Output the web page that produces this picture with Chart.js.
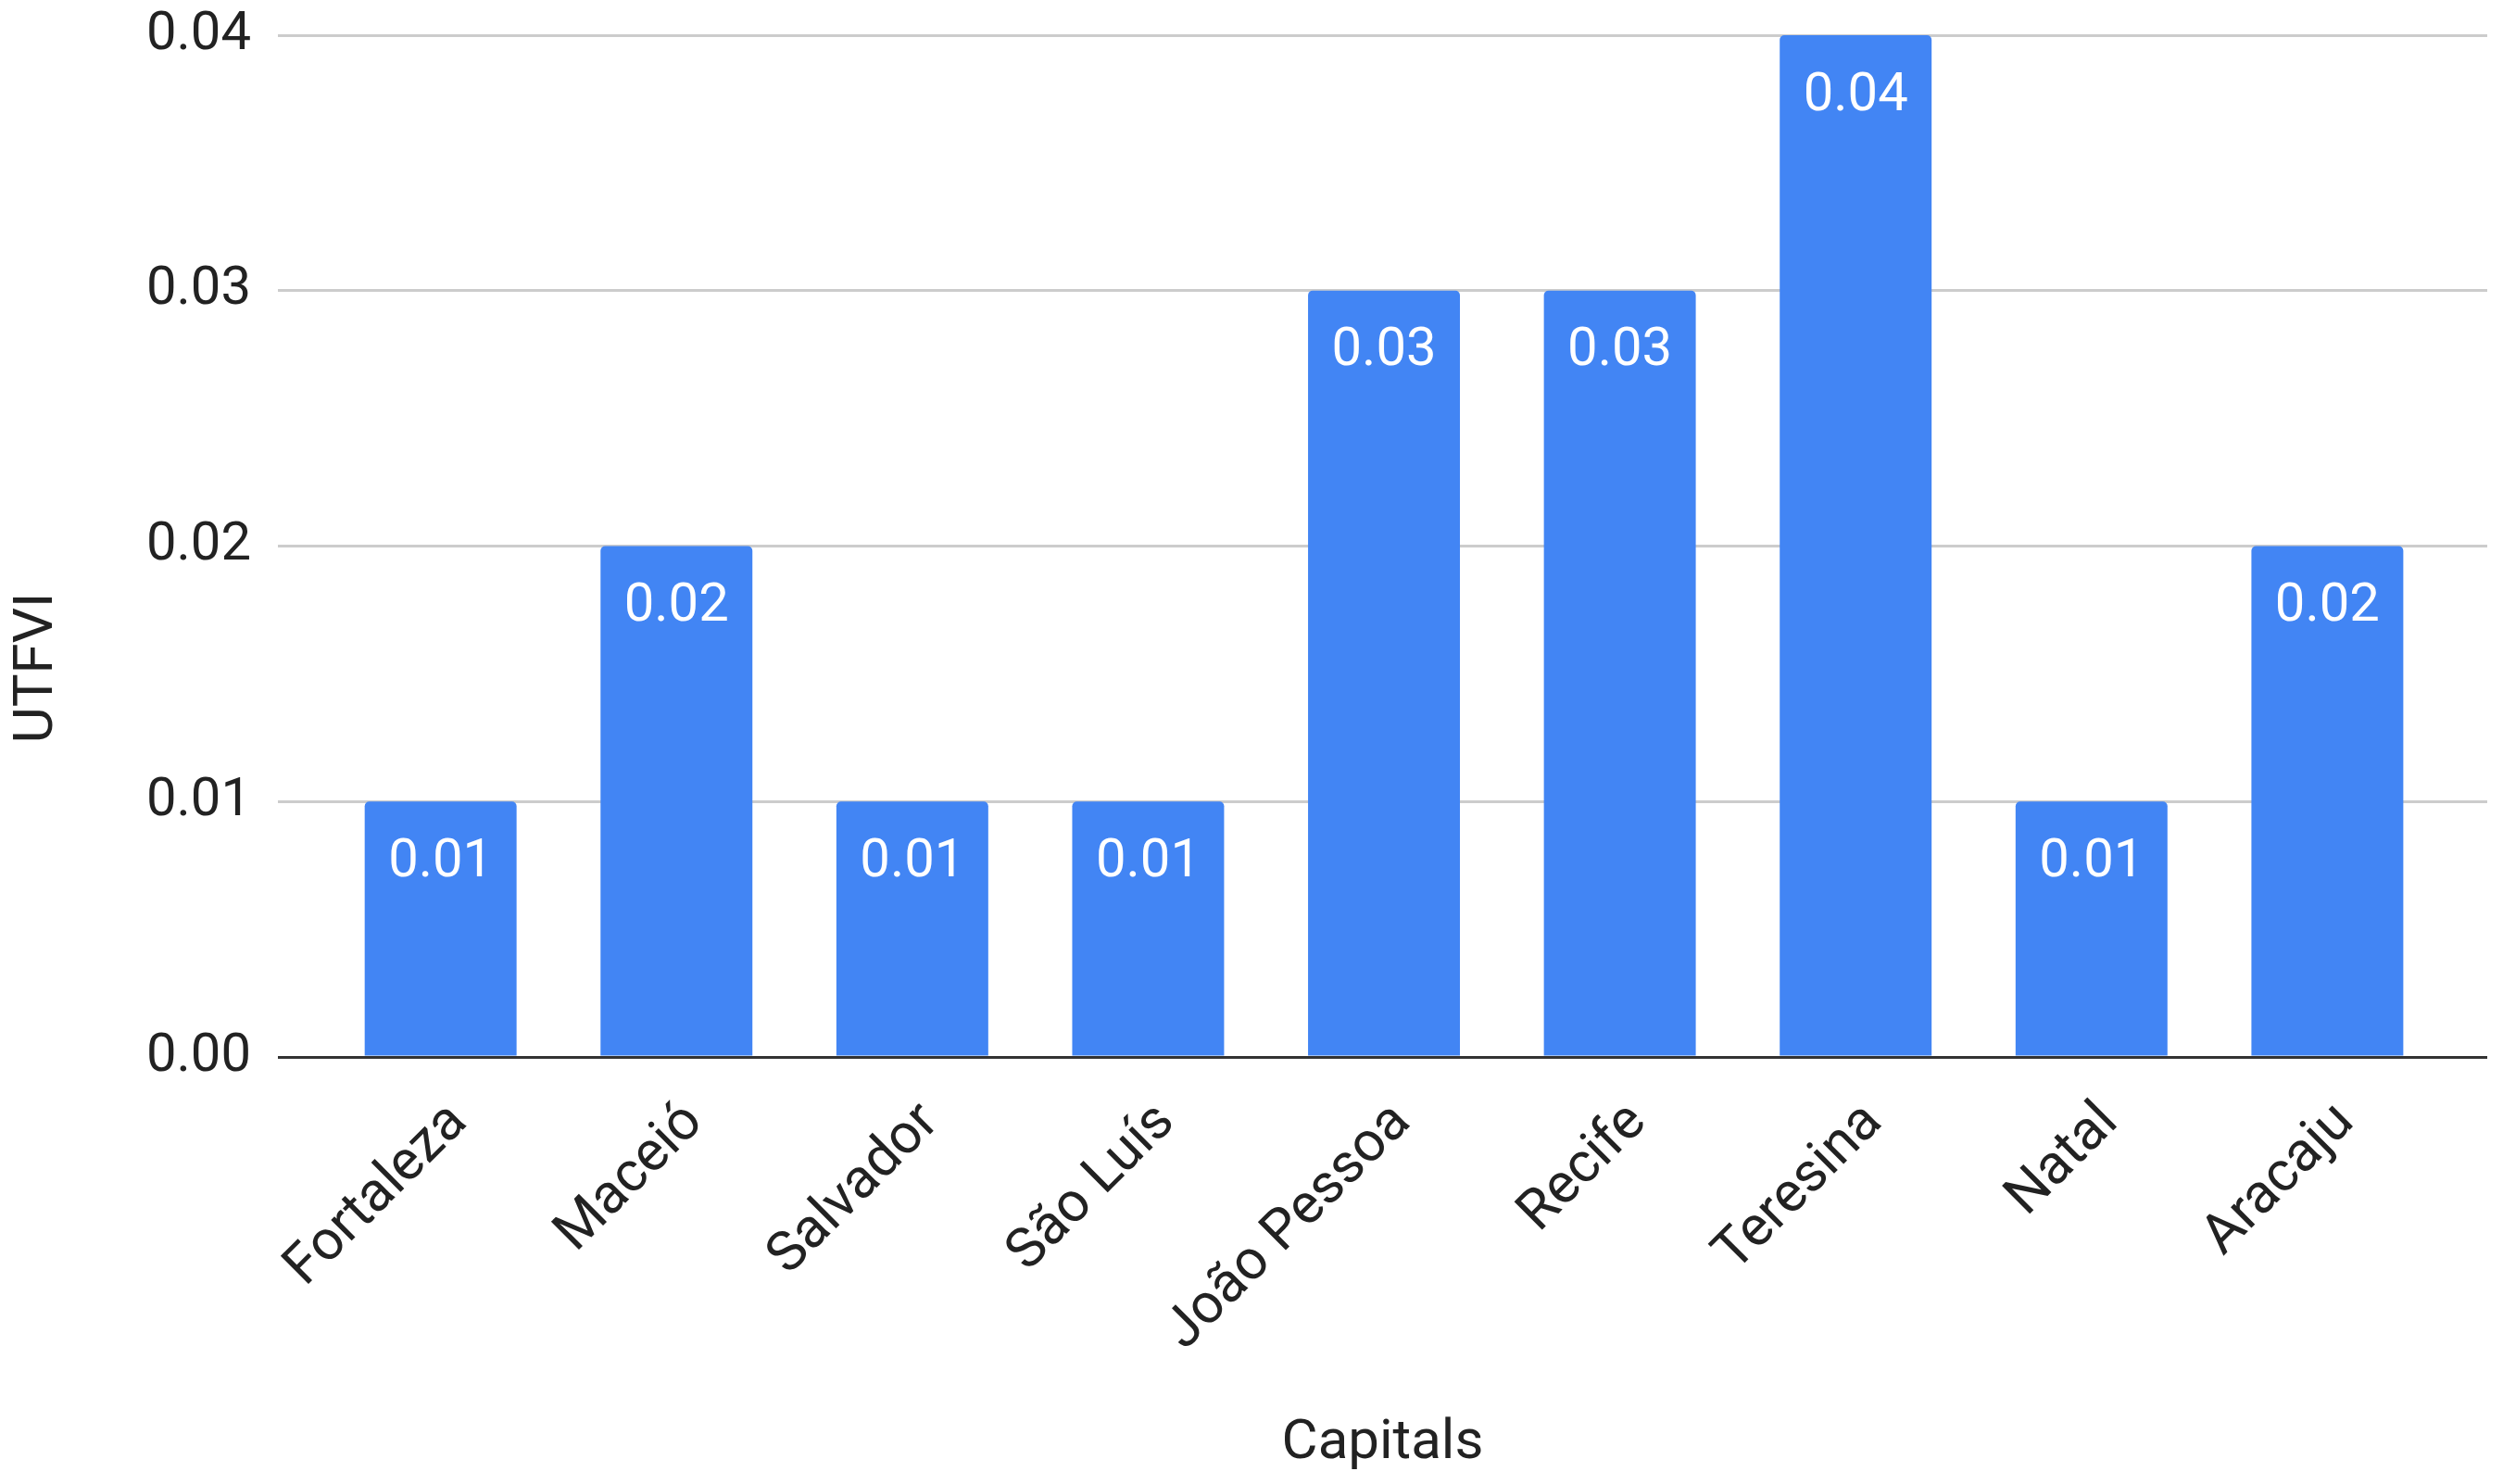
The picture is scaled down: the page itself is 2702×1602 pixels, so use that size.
<!DOCTYPE html>
<html>
<head>
<meta charset="utf-8">
<script src="https://cdn.jsdelivr.net/npm/chart.js@4/dist/chart.umd.min.js"></script>
<style>
  html, body { margin: 0; padding: 0; background: #ffffff; }
  #wrap { width: 2702px; height: 1602px; }
</style>
</head>
<body>
<div id="wrap"><canvas id="c" width="2702" height="1602"></canvas></div>
<script>
const categories = ["Fortaleza", "Maceió", "Salvador", "São Luís", "João Pessoa", "Recife", "Teresina", "Natal", "Aracaju"];
const utfviValues = [0.01, 0.02, 0.01, 0.01, 0.03, 0.03, 0.04, 0.01, 0.02];
const yTicks = [0, 0.01, 0.02, 0.03, 0.04];
const xTitle = "Capitals";
const yTitle = "UTFVI";

const FONT = "Roboto, 'Noto Sans', Arial, sans-serif";
const TEXT = "#222222";

const points = categories.map((c, i) => ({ x: i, y: utfviValues[i] }));

const valueLabels = {
  id: "valueLabels",
  afterDatasetsDraw(chart) {
    const ctx = chart.ctx;
    const meta = chart.getDatasetMeta(0);
    ctx.save();
    ctx.fillStyle = "#ffffff";
    ctx.font = "58px " + FONT;
    ctx.textAlign = "center";
    ctx.textBaseline = "middle";
    meta.data.forEach((bar, i) => {
      ctx.fillText(utfviValues[i].toFixed(2), bar.x, bar.y + 66);
    });
    ctx.restore();
  }
};

const yTitlePlugin = {
  id: "yTitlePlugin",
  afterDraw(chart) {
    const ctx = chart.ctx;
    ctx.save();
    ctx.fillStyle = TEXT;
    ctx.font = "60px " + FONT;
    ctx.textAlign = "center";
    ctx.textBaseline = "middle";
    ctx.translate(41, 721);
    ctx.rotate(-Math.PI / 2);
    ctx.fillText(yTitle, 0, 0);
    ctx.restore();
  }
};

new Chart(document.getElementById("c"), {
  type: "bar",
  data: {
    datasets: [{
      label: yTitle,
      data: points,
      backgroundColor: "#4285f4",
      borderWidth: 0,
      borderRadius: 5,
      barPercentage: 0.644,
      categoryPercentage: 1.0
    }]
  },
  options: {
    responsive: false,
    animation: false,
    devicePixelRatio: 1,
    layout: { padding: { top: 38, right: 17, bottom: 0, left: 0 } },
    plugins: { legend: { display: false }, tooltip: { enabled: false } },
    scales: {
      x: {
        type: "linear",
        min: -0.69,
        max: 8.678,
        offset: false,
        grid: { display: false, drawTicks: false, tickLength: 0 },
        border: { display: false },
        afterBuildTicks(scale) {
          scale.ticks = categories.map((c, i) => ({ value: i + 0.078 }));
        },
        ticks: {
          autoSkip: false,
          minRotation: 45,
          maxRotation: 45,
          padding: 36,
          color: TEXT,
          font: { family: FONT, size: 60 },
          callback(value) { return categories[Math.round(value)]; }
        },
        title: {
          display: true,
          text: xTitle,
          color: TEXT,
          font: { family: FONT, size: 60 },
          padding: { top: 0, bottom: 7 }
        },
        afterFit(scale) {
          scale.height = 461;
          scale.paddingLeft = 0;
          scale.paddingRight = 0;
        }
      },
      y: {
        min: 0,
        max: 0.04,
        border: { display: false },
        grid: {
          drawTicks: false,
          tickLength: 0,
          lineWidth: 3,
          color(ctx) { return ctx.tick && ctx.tick.value === 0 ? "#333333" : "#cccccc"; }
        },
        afterBuildTicks(scale) {
          scale.ticks = yTicks.map(v => ({ value: v }));
        },
        ticks: {
          padding: 29,
          color: TEXT,
          font: { family: FONT, size: 58 },
          callback(value) { return Number(value).toFixed(2); }
        },
        afterFit(scale) {
          scale.width = 300;
          scale.paddingTop = 0;
          scale.paddingBottom = 0;
        }
      }
    }
  },
  plugins: [valueLabels, yTitlePlugin]
});
</script>
</body>
</html>
